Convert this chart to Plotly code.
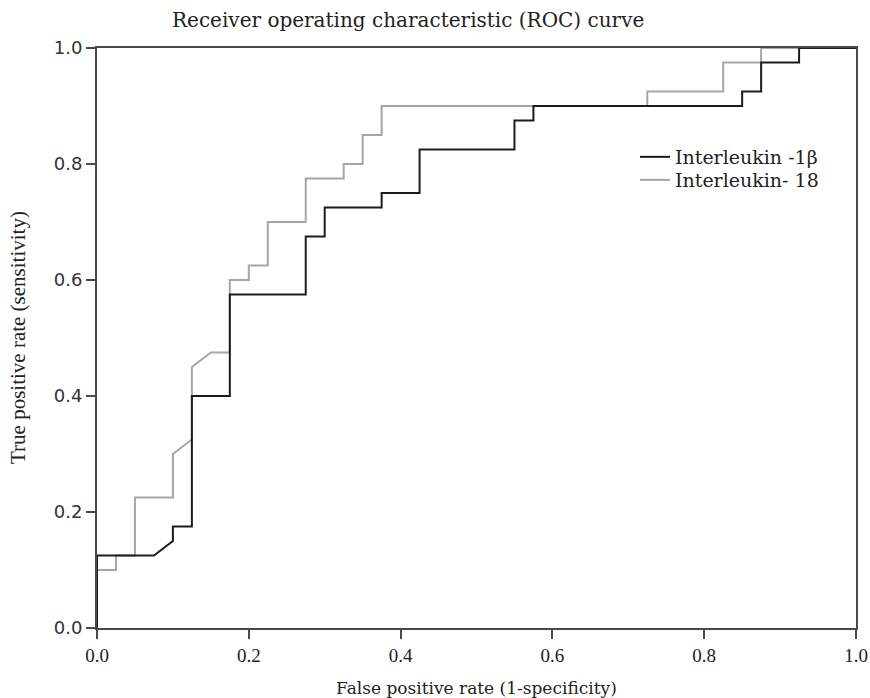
import plotly.graph_objects as go

# ROC step curves (False positive rate, True positive rate)
il1b_fpr = [0.0, 0.0, 0.075, 0.1, 0.1, 0.125, 0.125, 0.175, 0.175, 0.275, 0.275, 0.3, 0.3,
            0.375, 0.375, 0.425, 0.425, 0.55, 0.55, 0.575, 0.575, 0.85, 0.85, 0.875, 0.875,
            0.925, 0.925, 1.0]
il1b_tpr = [0.0, 0.125, 0.125, 0.15, 0.175, 0.175, 0.4, 0.4, 0.575, 0.575, 0.675, 0.675, 0.725,
            0.725, 0.75, 0.75, 0.825, 0.825, 0.875, 0.875, 0.9, 0.9, 0.925, 0.925, 0.975,
            0.975, 1.0, 1.0]

il18_fpr = [0.0, 0.0, 0.025, 0.025, 0.05, 0.05, 0.1, 0.1, 0.125, 0.125, 0.15, 0.175, 0.175,
            0.2, 0.2, 0.225, 0.225, 0.275, 0.275, 0.325, 0.325, 0.35, 0.35, 0.375, 0.375,
            0.725, 0.725, 0.825, 0.825, 0.875, 0.875, 1.0]
il18_tpr = [0.0, 0.1, 0.1, 0.125, 0.125, 0.225, 0.225, 0.3, 0.325, 0.45, 0.475, 0.475, 0.6,
            0.6, 0.625, 0.625, 0.7, 0.7, 0.775, 0.775, 0.8, 0.8, 0.85, 0.85, 0.9,
            0.9, 0.925, 0.925, 0.975, 0.975, 1.0, 1.0]

tick_vals = [0.0, 0.2, 0.4, 0.6, 0.8, 1.0]
tick_text = ["0.0", "0.2", "0.4", "0.6", "0.8", "1.0"]

BLACK = "#1c1c1c"
GRAY = "#a6a6a6"
TXT = "#222222"

fig = go.Figure()
fig.add_trace(go.Scatter(x=il18_fpr, y=il18_tpr, mode="lines", name="Interleukin- 18",
                         line=dict(color=GRAY, width=2), legend="legend2"))
fig.add_trace(go.Scatter(x=il1b_fpr, y=il1b_tpr, mode="lines", name="Interleukin -1β",
                         line=dict(color=BLACK, width=2), legend="legend"))

legend_font = dict(family="DejaVu Serif", size=19, color=TXT)
lx = (635 - 97) / 759

fig.update_layout(
    width=870, height=698,
    margin=dict(l=97, r=14, t=48, b=70),
    paper_bgcolor="white", plot_bgcolor="white",
    showlegend=True,
    legend=dict(x=lx, y=(628 - 157) / 580, xanchor="left", yanchor="middle",
                bgcolor="rgba(0,0,0,0)", font=legend_font),
    legend2=dict(x=lx, y=(628 - 180) / 580, xanchor="left", yanchor="middle",
                 bgcolor="rgba(0,0,0,0)", font=legend_font),
    annotations=[
        dict(text="Receiver operating characteristic (ROC) curve", xref="paper", yref="paper",
             x=(408 - 97) / 759, y=1.0, yshift=28, xanchor="center", yanchor="middle",
             showarrow=False, font=dict(family="DejaVu Serif", size=20, color=TXT)),
        dict(text="False positive rate (1-specificity)", xref="paper", yref="paper",
             x=0.5, y=0.0, yshift=-60, xanchor="center", yanchor="middle",
             showarrow=False, font=dict(family="DejaVu Serif", size=17, color=TXT)),
        dict(text="True positive rate (sensitivity)", xref="paper", yref="paper",
             x=0.0, y=0.5, xshift=-79, xanchor="center", yanchor="middle", textangle=-90,
             showarrow=False, font=dict(family="Liberation Serif", size=21, color=TXT)),
    ],
)
fig.update_xaxes(range=[0, 1], tickvals=tick_vals, ticktext=tick_text, automargin=False,
                 showgrid=False, zeroline=False, showline=True, mirror=True,
                 linecolor="#4a4a4a", linewidth=2, ticks="outside", ticklen=9, tickwidth=2,
                 tickcolor="#4a4a4a",
                 tickfont=dict(family="Liberation Serif", size=19, color=TXT))
fig.update_yaxes(range=[0, 1], tickvals=tick_vals, ticktext=tick_text, automargin=False,
                 showgrid=False, zeroline=False, showline=True, mirror=True,
                 linecolor="#4a4a4a", linewidth=2, ticks="outside", ticklen=9, tickwidth=2,
                 tickcolor="#4a4a4a",
                 tickfont=dict(family="DejaVu Sans", size=18, color="#333333"))

fig.write_html("out.html")
